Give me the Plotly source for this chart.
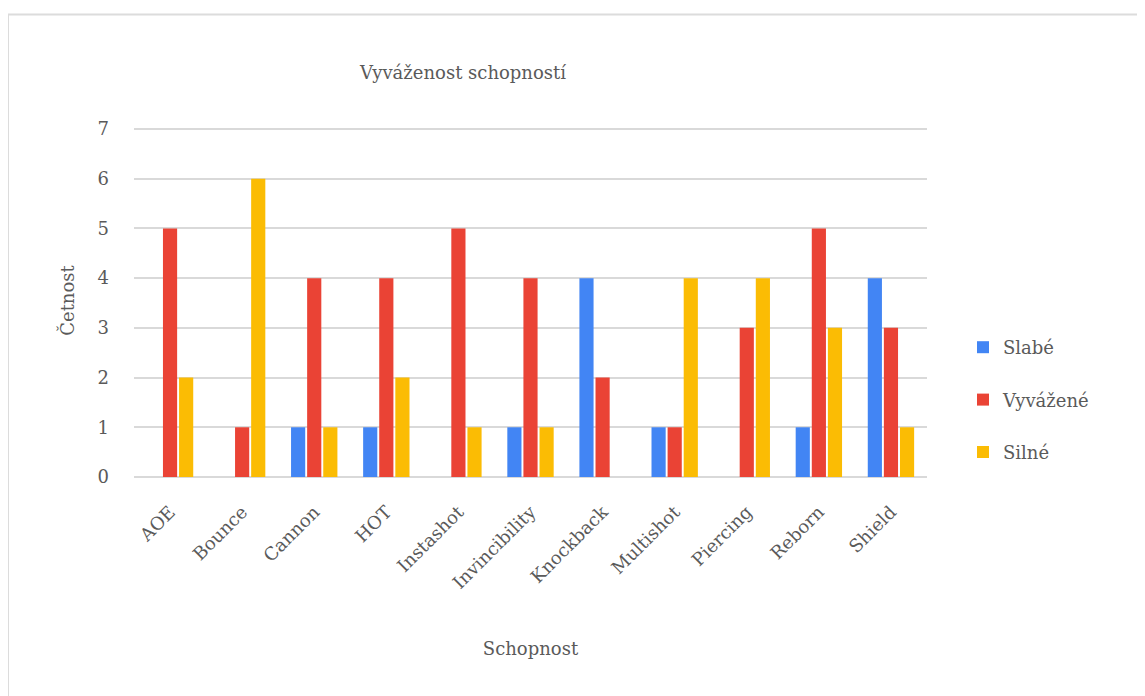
import plotly.graph_objects as go

categories = ["AOE", "Bounce", "Cannon", "HOT", "Instashot", "Invincibility",
              "Knockback", "Multishot", "Piercing", "Reborn", "Shield"]
slabe = [0, 0, 1, 1, 0, 1, 4, 1, 0, 1, 4]
vyvazene = [5, 1, 4, 4, 5, 4, 2, 1, 3, 5, 3]
silne = [2, 6, 1, 2, 1, 1, 0, 4, 4, 3, 1]
series_names = ["Slabé", "Vyvážené", "Silné"]
colors = ["#4285F4", "#EA4335", "#FBBC04"]
y_ticks = [0, 1, 2, 3, 4, 5, 6, 7]

FONT = "DejaVu Serif"
TXT = "#5a5a5a"
FS = 18

W, H = 1145, 696
L, T, B, R = 126, 116, 227, 226   # plot area in figure px
PW, PH = W - L - R, H - T - B

fig = go.Figure()
for i, (name, vals) in enumerate(zip(series_names, [slabe, vyvazene, silne])):
    fig.add_trace(go.Bar(x=categories, y=vals, name=name, marker_color=colors[i],
                         marker_line_width=0, legendgroup=name))

fig.update_layout(
    width=W, height=H,
    margin=dict(l=L, r=R, t=T, b=B),
    paper_bgcolor="white", plot_bgcolor="white",
    font=dict(family=FONT, size=FS, color=TXT),
    title=dict(text="Vyváženost schopností", x=455 / W, xanchor="center",
               y=1 - 65 / H, yanchor="middle",
               font=dict(family=FONT, size=18, color=TXT)),
    barmode="group", bargap=0.33, bargroupgap=0.12,
    showlegend=True,
    legend=dict(x=(955 - L) / PW, xanchor="left", y=(469 - 392) / PH, yanchor="middle",
                font=dict(family=FONT, size=FS, color=TXT),
                tracegroupgap=26, traceorder="grouped", itemwidth=30),
    xaxis=dict(tickangle=-45, showgrid=False, showline=False, ticks="",
               ticklabelstandoff=20,
               tickfont=dict(family=FONT, size=FS, color=TXT),
               title=dict(text="Schopnost", standoff=50,
                          font=dict(family=FONT, size=FS, color=TXT))),
    yaxis=dict(range=[0, 7.1], tickvals=y_ticks, showgrid=True,
               gridcolor="#d9d9d9", gridwidth=2, zeroline=True,
               zerolinecolor="#d9d9d9", zerolinewidth=2, ticks="",
               ticklabelstandoff=24,
               tickfont=dict(family=FONT, size=FS, color=TXT),
               title=dict(text="Četnost", standoff=18,
                          font=dict(family=FONT, size=FS, color=TXT))),
)

# outer light border of the chart card
fig.add_shape(type="rect", xref="paper", yref="paper",
              x0=(0 - L) / PW, x1=(1160 - L) / PW,
              y0=-(B + 20) / PH,
              y1=(H - 6.5 - B) / PH,
              line=dict(color="#dcdcdc", width=2), fillcolor="rgba(0,0,0,0)",
              layer="below")

fig.write_html("out.html")
